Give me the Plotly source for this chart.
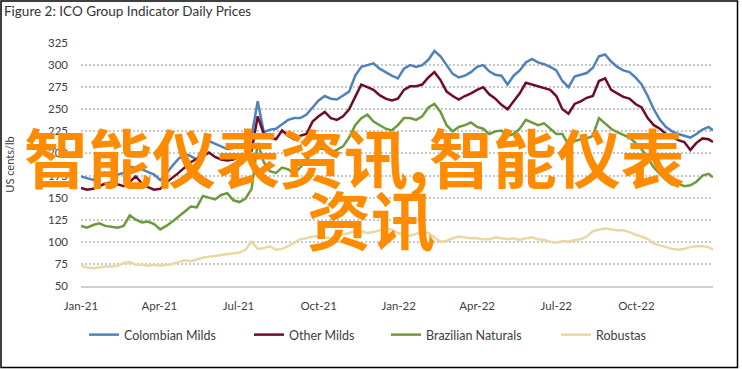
import pandas as pd
import plotly.graph_objects as go

# ---- data (weekly readings, US cents/lb) ----
dates = list(pd.date_range("2021-01-01", periods=104, freq="7D")) + [pd.Timestamp("2022-12-28")]

colombian_milds = [174, 172, 170, 176, 178, 174, 176, 178, 185, 184, 182, 179, 176, 170, 177, 186, 194, 200, 197, 193,
                   206, 214, 211, 208, 205, 206, 208, 212, 220, 259, 224, 227, 228, 233, 238, 240, 240, 244, 252, 260,
                   265, 262, 261, 266, 270, 288, 298, 300, 302, 296, 292, 288, 285, 296, 300, 298, 300, 306, 316, 310,
                   300, 290, 286, 288, 292, 298, 300, 293, 289, 288, 278, 288, 294, 303, 307, 303, 301, 298, 294, 282,
                   275, 287, 289, 291, 297, 310, 312, 304, 298, 294, 292, 286, 278, 265, 250, 238, 230, 225, 222, 220,
                   218, 222, 227, 230, 226]

other_milds = [161, 159, 160, 163, 166, 167, 165, 163, 168, 174, 166, 162, 159, 160, 167, 172, 178, 184, 190, 194,
               197, 201, 196, 193, 192, 193, 197, 198, 203, 242, 222, 218, 216, 226, 220, 216, 220, 222, 236, 242,
               247, 240, 238, 242, 250, 264, 278, 275, 272, 266, 262, 260, 262, 272, 276, 276, 278, 286, 292, 283,
               270, 265, 261, 265, 268, 272, 275, 267, 262, 255, 250, 259, 268, 280, 278, 276, 274, 272, 265, 250,
               245, 256, 259, 263, 265, 282, 285, 272, 268, 264, 262, 256, 252, 240, 232, 228, 222, 219, 215, 213,
               204, 212, 217, 216, 213]

brazilian_naturals = [118, 116, 119, 121, 118, 117, 116, 118, 130, 125, 122, 123, 120, 114, 118, 123, 128, 134, 140, 139,
                      152, 150, 148, 153, 155, 147, 145, 149, 160, 212, 190, 180, 178, 184, 182, 177, 184, 192, 203, 206,
                      205, 201, 204, 208, 218, 232, 240, 244, 236, 232, 228, 226, 232, 240, 240, 238, 242, 252, 256, 247,
                      232, 225, 230, 232, 235, 230, 228, 222, 225, 226, 220, 222, 228, 238, 235, 232, 234, 228, 222, 222,
                      210, 214, 216, 217, 220, 240, 234, 228, 224, 221, 218, 212, 205, 195, 184, 177, 170, 165, 166, 163,
                      164, 168, 175, 177, 173]

robustas = [73, 71, 70, 71, 72, 72, 73, 76, 77, 74, 74, 73, 74, 73, 74, 75, 77, 79, 78, 80,
            82, 83, 84, 85, 86, 87, 88, 91, 100, 92, 93, 95, 91, 92, 95, 99, 103, 104, 106, 106,
            105, 104, 106, 108, 110, 112, 112, 110, 111, 113, 115, 114, 110, 108, 107, 109, 112, 110, 105, 100,
            101, 104, 106, 105, 104, 104, 103, 103, 105, 104, 103, 104, 102, 104, 105, 103, 102, 100, 99, 101,
            100, 102, 103, 106, 112, 114, 115, 114, 113, 113, 111, 108, 106, 103, 98, 96, 94, 92, 91, 92,
            94, 95, 95, 94, 91]

series_names = ["Colombian Milds", "Other Milds", "Brazilian Naturals", "Robustas"]
series_values = [colombian_milds, other_milds, brazilian_naturals, robustas]
series_colors = ["#4F81BD", "#6E0D25", "#6C9A3C", "#EAD7A6"]
legend_widths = [120, 92, 125, 60]

title_text = "Figure 2: ICO Group Indicator Daily Prices"
y_title = "US cents/lb"
overlay_line1 = "智能仪表资讯,智能仪表"
overlay_line2 = "资讯"

# ---- figure ----
W, H = 742, 369
L, R, T, B = 81, 29, 43, 83
pw, ph = W - L - R, H - T - B

def px_x(p):
    return (p - L) / pw

def px_y(p):
    return (H - B - p) / ph

fig = go.Figure()
for name, vals, col, lw in zip(series_names, series_values, series_colors, legend_widths):
    fig.add_trace(go.Scatter(x=dates, y=vals, name=name, mode="lines", legendwidth=lw,
                             line=dict(color=col, width=2.5)))

font_family = "Lato, 'Noto Sans', sans-serif"
fig.update_layout(
    width=W, height=H,
    margin=dict(l=L, r=R, t=T, b=B, autoexpand=False),
    paper_bgcolor="white", plot_bgcolor="white",
    font=dict(family=font_family, size=11, color="#404040"),
    title=dict(text=title_text, x=4 / W, xref="container", xanchor="left",
               y=1 - 11 / H, yref="container", yanchor="middle",
               font=dict(family=font_family, size=13.5, color="#333333")),
    showlegend=True,
    legend=dict(orientation="h", x=px_x(84), xanchor="left", y=px_y(335), yanchor="middle",
                font=dict(family=font_family, size=12.5, color="#404040"),
                bgcolor="rgba(0,0,0,0)"),
    xaxis=dict(type="date", range=["2021-01-01", "2022-12-28"], tick0="2021-01-01", dtick="M3",
               tickformat="%b-%y", showgrid=False, showline=True, linecolor="#d0d0d0", linewidth=1.5,
               ticks="", ticklabelstandoff=8, tickfont=dict(size=11.5), zeroline=False, automargin=False),
    yaxis=dict(range=[50, 325], tick0=50, dtick=25, showgrid=True, gridcolor="#c8c8c8",
               griddash="2px,2px", gridwidth=1.5, showline=False, ticks="", ticklabelstandoff=12,
               tickfont=dict(size=11.5), zeroline=False, automargin=False,
               title=dict(text=y_title, font=dict(size=11, color="#404040"), standoff=31)),
)

# figure border
fig.add_shape(type="rect", xref="paper", yref="paper",
              x0=px_x(1), x1=px_x(737.5), y0=px_y(367.5), y1=px_y(1),
              line=dict(color="black", width=1.5), fillcolor="rgba(0,0,0,0)", layer="above")

# orange overlay text
cjk = "'Noto Sans CJK SC', 'Noto Sans CJK JP', sans-serif"
fig.add_annotation(text="<b>" + overlay_line1 + "</b>", xref="paper", yref="paper",
                   x=px_x(354), y=px_y(155), xanchor="center", yanchor="middle", showarrow=False,
                   font=dict(family=cjk, size=64, color="#FF8C00"))
fig.add_annotation(text="<b>" + overlay_line2 + "</b>", xref="paper", yref="paper",
                   x=px_x(371), y=px_y(217), xanchor="center", yanchor="middle", showarrow=False,
                   font=dict(family=cjk, size=64, color="#FF8C00"))

fig.write_html("out.html", config={"displayModeBar": False},
               post_script="document.body.style.margin='0px';")
